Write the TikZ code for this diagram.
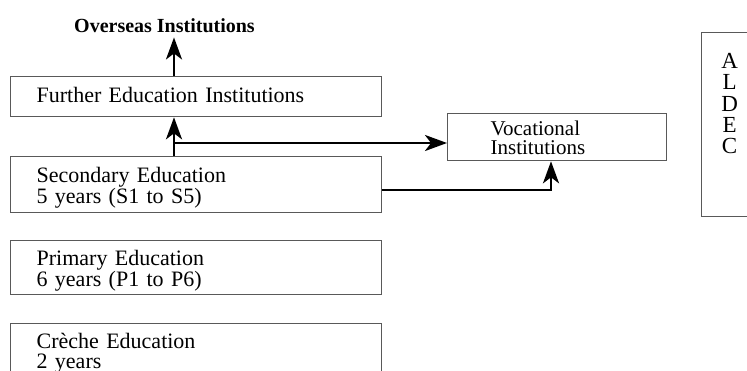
\documentclass[tikz,border=0pt]{standalone}
\usepackage{fontspec}
\setmainfont{Liberation Serif}
\usetikzlibrary{arrows.meta}
\begin{document}
\begin{tikzpicture}[x=1pt,y=-1pt,
  box/.style={draw=black!65, line width=1.3pt, anchor=north west, inner ysep=0pt,
    align=left, font=\fontsize{22}{20}\selectfont},
  conn/.style={line width=2.6pt, draw=black, -{Stealth[length=22pt,width=16pt,inset=6pt]}},
  plain/.style={line width=2.6pt, draw=black}]
\useasboundingbox (0,0) rectangle (747,370);
% boxes
\node[box, minimum width=371pt, minimum height=40pt, inner xsep=26pt, text width=319pt,
  text height=26pt, text depth=14pt] (further) at (10,76) {Further Education Institutions};
\node[box, minimum width=371pt, minimum height=56pt, inner xsep=26pt, text width=319pt,
  text height=26pt, text depth=30pt] (secondary) at (10,156) {Secondary Education\\5 years (S1 to S5)};
\node[box, minimum width=371pt, minimum height=54pt, inner xsep=26pt, text width=319pt,
  text height=25pt, text depth=29pt] (primary) at (10,240) {Primary Education\\6 years (P1 to P6)};
\node[box, minimum width=371pt, minimum height=60pt, inner xsep=26pt, text width=319pt,
  text height=25pt, text depth=35pt] (creche) at (10,323) {Crèche Education\\2 years};
\node[box, minimum width=219pt, minimum height=47pt, inner xsep=43pt, text width=133pt,
  text height=22pt, text depth=25pt, font=\fontsize{21}{18.5}\selectfont] (vocational) at (447,113) {Vocational\\Institutions};
\node[box, minimum width=56pt, minimum height=184pt, inner xsep=0pt, text width=56pt, align=center,
  text height=36pt, text depth=148pt, font=\fontsize{23}{21.25}\selectfont] (aldec) at (701,32) {A\\L\\D\\E\\C};
% overseas label
\node[anchor=base west, inner sep=0pt, font=\fontsize{20}{22}\selectfont\bfseries] (overseas) at (74,32) {Overseas Institutions};
% connectors
\coordinate (upx) at (174,0);
\coordinate (branch) at (174,143);
\coordinate (joint) at (551,190);
\draw[conn, shorten >=5pt] (upx |- further.north) -- (upx |- overseas.south);
\draw[conn] (upx |- secondary.north) -- (upx |- further.south);
\draw[conn] (branch) -- (branch -| vocational.west);
\draw[conn] (secondary.east |- joint) -| (joint |- vocational.south);
\end{tikzpicture}
\end{document}
